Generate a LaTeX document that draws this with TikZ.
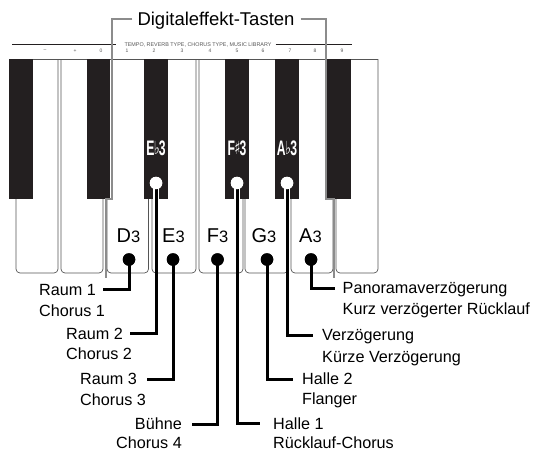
\documentclass[tikz,border=0pt]{standalone}
\usepackage{fontspec}
\usepackage{graphicx}
\setmainfont{Liberation Sans}
\newfontfamily\symfont{DejaVu Sans}
\definecolor{keyblack}{HTML}{231F20}
\definecolor{keyline}{HTML}{555555}
\definecolor{brgray}{HTML}{8C8C8C}
\tikzset{
  wkey/.style={draw=keyline, line width=0.7pt, fill=white, rounded corners=4pt},
  bkey/.style={fill=keyblack},
  bracketline/.style={draw=brgray, line width=2pt},
  conn/.style={draw=black, line width=3pt},
  casing/.style={draw=white, line width=6.5pt},
  bdot/.style={circle, fill=black, minimum size=12.5pt, inner sep=0pt},
  wdot/.style={circle, fill=white, minimum size=12.5pt, inner sep=0pt},
  lbl/.style={font=\fontsize{16.2}{19}\selectfont, inner sep=0pt, text height=11.6pt, text depth=0pt},
  keylbl/.style={inner sep=0pt, anchor=base},
  blbl/.style={inner sep=0pt, anchor=base},
  tiny/.style={font=\fontsize{5}{5}\selectfont, inner sep=0pt, text=keyline},
  title/.style={font=\fontsize{18.5}{20}\selectfont, inner sep=0pt, text height=13.3pt, text depth=0pt}
}
\newcommand{\wlab}[2]{{\fontsize{20}{20}\selectfont #1}{\fontsize{16.5}{16}\selectfont #2}}
\newcommand{\blab}[2]{\color{white}\scalebox{0.58}[1]{\fontsize{21}{21}\selectfont\bfseries #1}\kern-0.6pt\raisebox{1pt}{\scalebox{0.7}[1]{\symfont\fontsize{18}{18}\selectfont\bfseries\color{white}#2}}\kern-0.8pt\scalebox{0.58}[1]{\fontsize{21}{21}\selectfont\bfseries 3}}
\begin{document}
\begin{tikzpicture}[x=1pt,y=-1pt]
\useasboundingbox (0,0) rectangle (537,452);
% white keys
\foreach \a/\b in {16/58, 61/103, 107/148.5, 152/196, 199/243, 245/288.5, 291/333, 336/378}{
  \draw[wkey] (\a,59) -- (\a,273) -- (\b,273) -- (\b,59);
}
% keyboard top line
\draw[keyline, line width=0.7pt] (9,59) -- (378,59);
% black keys
\foreach \a/\b in {9/33, 87/110, 144/168, 225/249, 275/299, 327/351}{
  \fill[bkey] (\a,59) rectangle (\b,199);
}
% top rule and texts
\node[tiny, font=\fontsize{5.4}{5.4}\selectfont] (rule) at (198,44.5) {TEMPO, REVERB TYPE, CHORUS TYPE, MUSIC LIBRARY};
\coordinate (ruleL) at (12,44.5);
\coordinate (ruleR) at (352,44.5);
\draw[keyblack, line width=1.6pt] (ruleL) -- ([xshift=-8pt]rule.west);
\draw[keyblack, line width=1.6pt] ([xshift=4pt]rule.east) -- (ruleR);
\foreach \x/\t/\n in {45/--/nm, 75/+/np, 101/0/n0, 127/1/n1, 154/2/n2, 182/3/n3, 210/4/n4, 237/5/n5, 263/6/n6, 290/7/n7, 315/8/n8, 342/9/n9}{
  \node[tiny] (\n) at (\x,50.8) {\t};
}
% title and bracket
\node[title] (title) at (216,18.8) {Digitaleffekt-Tasten};
\draw[bracketline] ([xshift=-5pt]title.west) -| (112,199) -- (106,199) -- (106,278);
\draw[bracketline] ([xshift=6pt]title.east) -| (326,199) -- (334,199) -- (334,278);
% key labels
\node[keylbl] (kD) at (128.5,242) {\wlab{D}{3}};
\node[keylbl] (kE) at (173.5,242) {\wlab{E}{3}};
\node[keylbl] (kF) at (217.5,242) {\wlab{F}{3}};
\node[keylbl] (kG) at (264,242) {\wlab{G}{3}};
\node[keylbl] (kA) at (310.5,242) {\wlab{A}{3}};
\node[blbl] (kEb) at (156,155) {\blab{E}{♭}};
\node[blbl] (kFs) at (237,155) {\blab{F}{♯}};
\node[blbl] (kAb) at (287,155) {\blab{A}{♭}};
% dots
\coordinate (kbot) at (0,199);
\node[bdot] (dD) at (129,259.5) {};
\node[bdot] (dE) at (173,259.5) {};
\node[bdot] (dF) at (217.5,259.5) {};
\node[bdot] (dG) at (267,259.5) {};
\node[bdot] (dA) at (311,259.5) {};
\node[wdot] (dEb) at (156,183) {};
\node[wdot] (dFs) at (237,183) {};
\node[wdot] (dAb) at (287,183) {};
% labels
\node[lbl, anchor=west] (r1a) at (39,289.5) {Raum 1};
\node[lbl, anchor=west] (r1b) at (39,311) {Chorus 1};
\node[lbl, anchor=west] (r2a) at (66,333.5) {Raum 2};
\node[lbl, anchor=west] (r2b) at (66,353.5) {Chorus 2};
\node[lbl, anchor=west] (r3a) at (80,379) {Raum 3};
\node[lbl, anchor=west] (r3b) at (80,399.5) {Chorus 3};
\node[lbl, anchor=east] (bua) at (182,424) {Bühne};
\node[lbl, anchor=east] (bub) at (182,443) {Chorus 4};
\node[lbl, anchor=west] (h1a) at (273,423.5) {Halle 1};
\node[lbl, anchor=west] (h1b) at (273,443) {Rücklauf-Chorus};
\node[lbl, anchor=west] (h2a) at (302,379) {Halle 2};
\node[lbl, anchor=west] (h2b) at (302,399) {Flanger};
\node[lbl, anchor=west] (vza) at (322,335) {Verzögerung};
\node[lbl, anchor=west] (vzb) at (322,356.5) {Kürze Verzögerung};
\node[lbl, anchor=west] (pna) at (342.5,288) {Panoramaverzögerung};
\node[lbl, anchor=west] (pnb) at (342.5,309) {Kurz verzögerter Rücklauf};
% casings inside black keys
\draw[casing] (dEb.center) -- (dEb.center |- kbot);
\draw[casing] (dFs.center) -- (dFs.center |- kbot);
\draw[casing] (dAb.center) -- (dAb.center |- kbot);
% connectors
\draw[conn] (dD.center) |- ([xshift=7pt]r1a.east);
\draw[conn] (dEb.south) |- ([xshift=7pt]r2a.east);
\draw[conn] (dE.center) |- ([xshift=10pt]r3a.east);
\draw[conn] (dF.center) |- ([xshift=10pt]bua.east);
\draw[conn] (dFs.south) |- ([xshift=-13pt]h1a.west);
\draw[conn] (dG.center) |- ([xshift=-9pt]h2a.west);
\draw[conn] (dAb.south) |- ([xshift=-9pt]vza.west);
\draw[conn] (dA.center) |- ([xshift=-7.5pt]pna.west);
% redraw dots on top
\node[bdot] at (dD) {};
\node[bdot] at (dE) {};
\node[bdot] at (dF) {};
\node[bdot] at (dG) {};
\node[bdot] at (dA) {};
\node[wdot] at (dEb) {};
\node[wdot] at (dFs) {};
\node[wdot] at (dAb) {};
\end{tikzpicture}
\end{document}
